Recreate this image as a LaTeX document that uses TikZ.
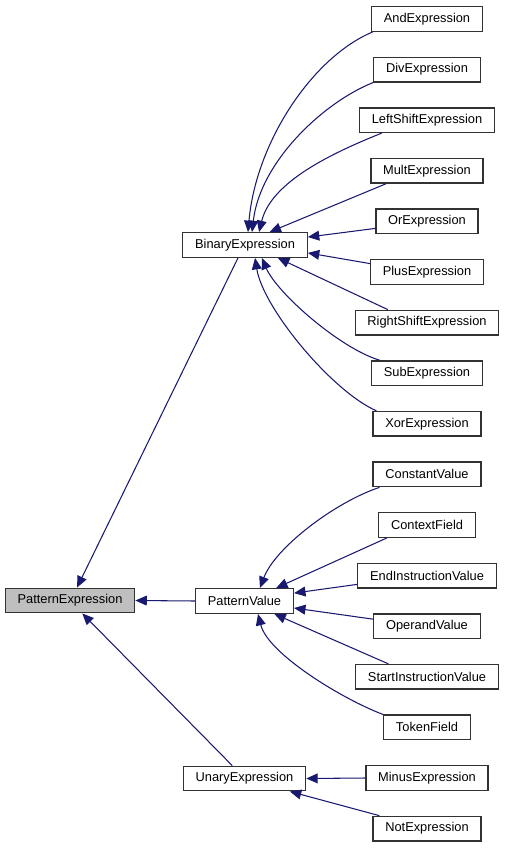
\documentclass[tikz,border=0pt]{standalone}
\usepackage{fontspec}
\setmainfont{Liberation Sans}
\usetikzlibrary{arrows.meta}
\definecolor{edgeblue}{RGB}{25,25,112}
\definecolor{boxline}{RGB}{50,50,50}

\begin{document}
\begin{tikzpicture}[x=0.02cm, y=-0.02cm,
  cls/.style={draw=boxline, line width=0.75pt, fill=white, minimum height=14pt,
    inner xsep=7pt, inner ysep=0pt, font=\fontsize{7.3}{8.8}\selectfont},
  inh/.style={draw=edgeblue, line width=0.6pt, -{Triangle[length=6.5pt, width=5.6pt]}}]
  \useasboundingbox (0,0) rectangle (505,848);

  % Base class and the three middle classes
  \node[cls, fill=gray!50] (pexpr) at (70,600.5) {PatternExpression};
  \node[cls] (bin) at (245,245) {BinaryExpression};
  \node[cls] (pval) at (244.5,601) {PatternValue};
  \node[cls] (unary) at (244.5,778.5) {UnaryExpression};

  % Leaf classes: one column on the right
  \foreach \nm/\lbl [count=\i from 0] in {and/AndExpression, div/DivExpression,
      lshift/LeftShiftExpression, mult/MultExpression, or/OrExpression,
      plus/PlusExpression, rshift/RightShiftExpression, sub/SubExpression,
      xor/XorExpression, const/ConstantValue, ctx/ContextField,
      endi/EndInstructionValue, oper/OperandValue, starti/StartInstructionValue,
      token/TokenField, minus/MinusExpression, not/NotExpression} {
    \node[cls] (\nm) at (427, {19+50.6*\i}) {\lbl};
  }

  % Binary operators
  \draw[inh] ([xshift=1pt]and.south west) .. controls +(-60,25) and +(8,-90) .. ([xshift=1.7pt]bin.north);
  \draw[inh] (div.south west) .. controls +(-50,20) and +(8,-70) .. ([xshift=4pt]bin.north);
  \draw[inh] ([xshift=13pt]lshift.south west) .. controls +(-50,20) and +(12,-50) .. ([xshift=8pt]bin.north);
  \draw[inh] ([xshift=9pt]mult.south west) -- ([xshift=14pt]bin.north);
  \draw[inh] ([yshift=-4pt]or.west) -- ([yshift=4.5pt]bin.east);
  \draw[inh] ([yshift=4.8pt]plus.west) -- ([yshift=-4.5pt]bin.east);
  \draw[inh] ([xshift=19pt]rshift.north west) -- ([xshift=18.7pt]bin.south);
  \draw[inh] ([xshift=5pt]sub.north west) .. controls +(-40,-12) and +(15,35) .. ([xshift=9.6pt]bin.south);
  \draw[inh] ([xshift=2.3pt]xor.north west) .. controls +(-45,-20) and +(8,50) .. ([xshift=5.7pt]bin.south);

  % Values
  \draw[inh] ([xshift=4pt]const.south west) .. controls +(-45,15) and +(15,-40) .. ([xshift=8.8pt]pval.north);
  \draw[inh] ([xshift=5pt]ctx.south west) -- ([xshift=18pt]pval.north);
  \draw[inh] ([yshift=-5pt]endi.west) -- ([yshift=4.5pt]pval.east);
  \draw[inh] ([yshift=4pt]oper.west) -- ([yshift=-4pt]pval.east);
  \draw[inh] ([xshift=19pt]starti.north west) -- ([xshift=17pt]pval.south);
  \draw[inh] (token.north west) .. controls +(-40,-15) and +(10,40) .. ([xshift=7.7pt]pval.south);

  % Unary operators
  \draw[inh] (minus.west) -- (unary.east);
  \draw[inh] ([xshift=4pt]not.north west) -- ([xshift=25.8pt]unary.south);

  % Up to the base class
  \draw[inh] ([xshift=-4pt]bin.south) -- ([xshift=4pt]pexpr.north);
  \draw[inh] (pval.west) -- (pexpr.east);
  \draw[inh] ([xshift=-7pt]unary.north) -- ([xshift=7pt]pexpr.south);
\end{tikzpicture}
\end{document}
